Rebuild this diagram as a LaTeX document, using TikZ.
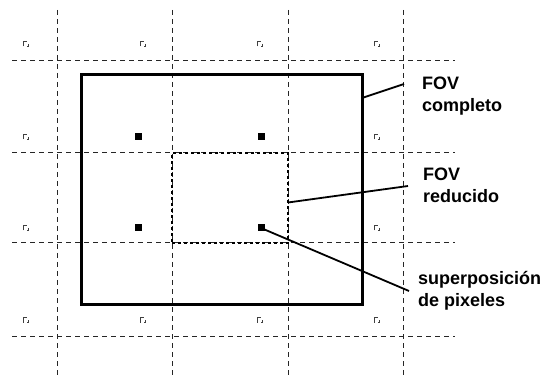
\documentclass[tikz,border=0pt]{standalone}
\usepackage{fontspec}
\setmainfont{Liberation Sans}

\tikzset{
  gridline/.style={draw=black!85, line width=1pt, dash pattern=on 5pt off 4pt},
  fovbox/.style={rectangle, draw, line width=3pt, inner sep=0pt, outer sep=0pt},
  redbox/.style={rectangle, draw, line width=2.6pt, dash pattern=on 2.6pt off 3.4pt, inner sep=0pt, outer sep=0pt},
  pixel/.style={rectangle, fill=black, minimum size=7pt, inner sep=0pt},
  pixmark/.style={rectangle, minimum size=9pt, inner sep=0pt, path picture={
    \draw[black!75, line width=1pt]
      ([shift={(-2.5pt,-2.5pt)}]path picture bounding box.center) -- ++(0,5pt) -- ++(3.5pt,0);
    \draw[black!75, line width=1pt]
      ([shift={(2.5pt,0pt)}]path picture bounding box.center) -- ++(0,-2.5pt) -- ++(-2pt,0);}},
  leader/.style={line width=1.8pt},
  callout/.style={font=\bfseries\fontsize{18}{22}\selectfont, align=left, inner sep=0pt, anchor=north west}
}

\begin{document}
\begin{tikzpicture}[x=1pt, y=-1pt]
  \useasboundingbox (0,0) rectangle (543,379);

  % Grid
  \draw [gridline] (57,10) -- (57,379);
  \draw [gridline] (172,10) -- (172,379);
  \draw [gridline] (288,10) -- (288,379);
  \draw [gridline] (403,10) -- (403,379);
  \draw [gridline] (12,61) -- (455,61);
  \draw [gridline] (12,153) -- (455,153);
  \draw [gridline] (12,243) -- (455,243);
  \draw [gridline] (12,336) -- (455,336);

  % Pixel marks
  \node [pixmark] (m11) at (26,44) {};
  \node [pixmark] (m12) at (143,44) {};
  \node [pixmark] (m13) at (260,44) {};
  \node [pixmark] (m14) at (377,44) {};
  \node [pixmark] (m21) at (26,137) {};
  \node [pixmark] (m24) at (377,137) {};
  \node [pixmark] (m31) at (26,228) {};
  \node [pixmark] (m34) at (377,228) {};
  \node [pixmark] (m41) at (26,320) {};
  \node [pixmark] (m42) at (143,320) {};
  \node [pixmark] (m43) at (260,320) {};
  \node [pixmark] (m44) at (377,320) {};

  % Nodes
  \node [fovbox, minimum width=281pt, minimum height=229pt] (fovfull) at (221.5,189.5) {};
  \node [redbox, minimum width=116pt, minimum height=90pt] (fovred) at (230,198) {};
  \node [pixel] (px22) at (138,137) {};
  \node [pixel] (px23) at (261,137) {};
  \node [pixel] (px32) at (138,228) {};
  \node [pixel] (px33) at (261,228) {};

  \node [callout] (fulltxt) at (422,77) {FOV\\completo};
  \node [callout] (redtxt) at (423,168) {FOV\\reducido};
  \node [callout] (overtxt) at (418,271) {superposición\\de pixeles};

  \coordinate (fulltip) at (404,84);
  \coordinate (redtip) at (408,186);
  \coordinate (overtip) at (409,291);

  % Edges
  \draw [leader] ([yshift=-23pt]fovfull.north east) -- (fulltip);
  \draw [leader] ([yshift=-4.5pt]fovred.east) -- (redtip);
  \draw [leader] (px33.center) -- (overtip);
\end{tikzpicture}
\end{document}
